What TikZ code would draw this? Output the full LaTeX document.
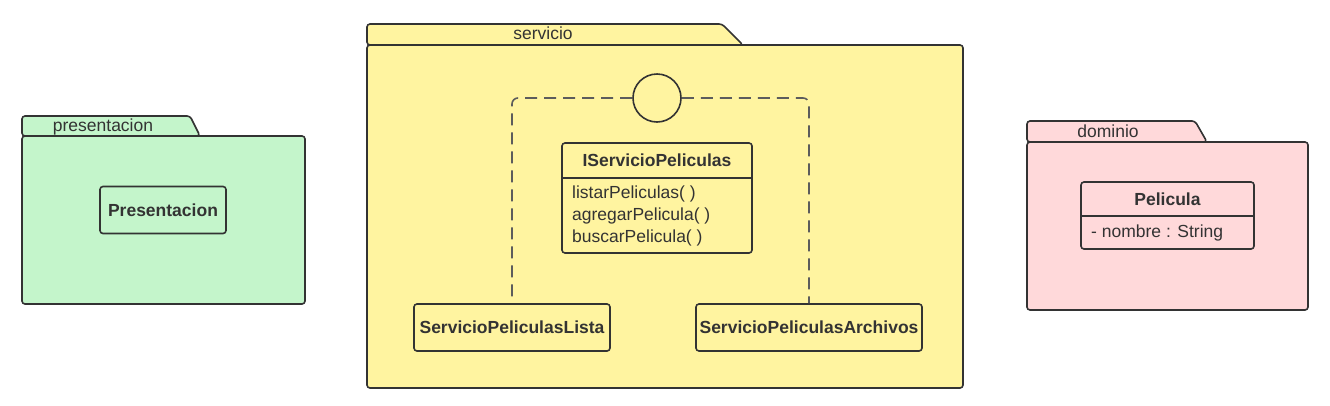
\documentclass[tikz,border=0pt]{standalone}
\usepackage{fontspec}
\setmainfont{Liberation Sans}
\definecolor{pkggreen}{HTML}{C4F5CB}
\definecolor{pkgyellow}{HTML}{FFF4A0}
\definecolor{pkgpink}{HTML}{FFD9DA}
\definecolor{ink}{HTML}{333333}
\begin{document}
\begin{tikzpicture}[x=1pt,y=-1pt,
  font=\fontsize{17.5}{20}\selectfont,
  outline/.style={draw=ink,line width=1.6pt,rounded corners=3pt},
  classbox/.style={outline,minimum height=47pt,font=\fontsize{17.5}{20}\selectfont\bfseries,text=ink,inner sep=0pt},
  tablabel/.style={text=ink,inner sep=0pt,anchor=base},
  dashline/.style={draw=ink!80,line width=1.6pt,dash pattern=on 12pt off 7pt},
  member/.style={text=ink,inner sep=0pt,anchor=base west}]
\useasboundingbox (0,0) rectangle (1330,405);
\fill[white] (0,0) rectangle (1330,405);

% ---- presentacion package
\path[outline,fill=pkggreen] (22,136) -- (22,116) -- (190,116) -- (200,136) -- cycle;
\path[outline,fill=pkggreen] (22,136) rectangle (305,304);
\node[tablabel] (lblpres) at (103,131) {presentacion};
\node[classbox,minimum width=126pt] (pres) at (163,210) {Presentacion};

% ---- servicio package
\path[outline,fill=pkgyellow] (367,45) -- (367,24) -- (722,24) -- (743,45) -- cycle;
\path[outline,fill=pkgyellow] (367,45) rectangle (963,388);
\node[tablabel] (lblserv) at (543,39) {servicio};

\node[classbox,minimum width=196pt] (lista) at (512,327.5) {ServicioPeliculasLista};
\node[classbox,minimum width=226pt] (archivos) at (809,327.5) {ServicioPeliculasArchivos};

\node[draw=ink,line width=1.6pt,circle,minimum size=48pt,inner sep=0pt] (iface) at (657,98) {};

\coordinate (cl) at (512,98);
\coordinate (cr) at (809,98);
\draw[dashline,rounded corners=6pt] (iface.west) -- (cl) -- (lista.north);
\draw[dashline,rounded corners=6pt] (iface.east) -- (cr) -- (archivos.north);

% interface class
\path[outline,fill=pkgyellow] (562,143) rectangle (752,253);
\draw[draw=ink,line width=1.6pt] (562,178) -- (752,178);
\node[text=ink,font=\fontsize{17.5}{20}\selectfont\bfseries,inner sep=0pt,anchor=base] (ititle) at (657,166) {IServicioPeliculas};
\node[member] (m1) at (572,198) {listarPeliculas( )};
\node[member] (m2) at (572,220) {agregarPelicula( )};
\node[member] (m3) at (572,242) {buscarPelicula( )};

% ---- dominio package
\path[outline,fill=pkgpink] (1027,142) -- (1027,121) -- (1195,121) -- (1207,142) -- cycle;
\path[outline,fill=pkgpink] (1027,142) rectangle (1308,310);
\node[tablabel] (lbldom) at (1108,137) {dominio};

\path[outline,fill=pkgpink] (1081,182) rectangle (1254,249);
\draw[draw=ink,line width=1.6pt] (1081,216) -- (1254,216);
\node[text=ink,font=\fontsize{17.5}{20}\selectfont\bfseries,inner sep=0pt,anchor=base] (ptitle) at (1167.5,205) {Pelicula};
\node[member] (attr) at (1091,237) {- nombre : String};
\end{tikzpicture}
\end{document}
